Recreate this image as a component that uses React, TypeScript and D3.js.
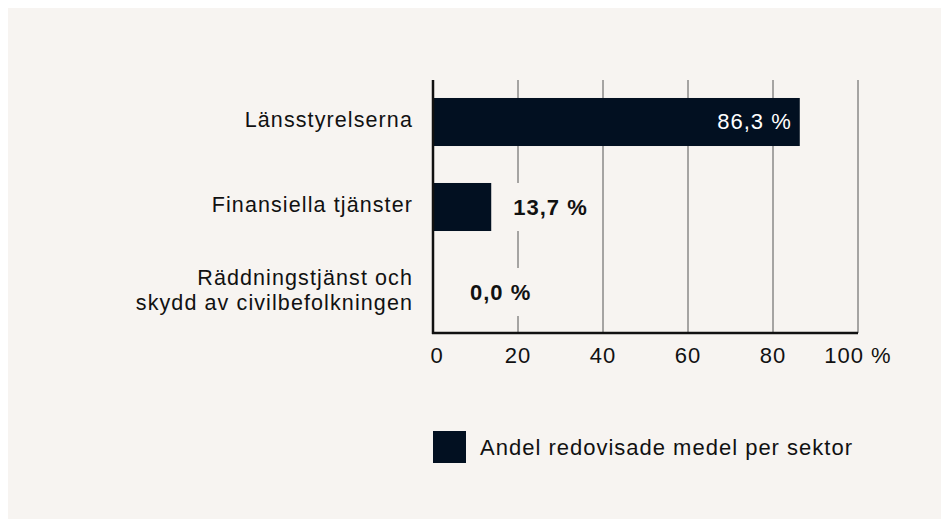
import React, { useEffect } from "react";
import * as d3 from "d3";

const categories: string[][] = [
  ["Länsstyrelserna"],
  ["Finansiella tjänster"],
  ["Räddningstjänst och", "skydd av civilbefolkningen"],
];
const values: number[] = [86.3, 13.7, 0.0];
const xTicks: number[] = [0, 20, 40, 60, 80, 100];
const legendLabel = "Andel redovisade medel per sektor";

const W = 933;
const H = 530;
const BG = "#f7f4f1";
const BAR = "#021021";
const TEXT = "#111111";
const FONT = "'Liberation Sans', Arial, Helvetica, sans-serif";

const fmt = (v: number) => v.toFixed(1).replace(".", ",") + " %";

export default function App() {
  useEffect(() => {
    document.body.style.margin = "8px 0 0 8px";
    document.documentElement.style.overflow = "hidden";
    document.body.style.overflow = "hidden";
  }, []);

  const x = d3.scaleLinear().domain([0, 100]).range([433, 858]);
  const y = d3
    .scaleBand<number>()
    .domain(categories.map((_, i) => i))
    .range([79.5, 334.5])
    .paddingInner(0.435)
    .paddingOuter(0.2175);
  const bw = y.bandwidth();
  const axisY = 333;

  return (
    <svg width={W} height={H} style={{ display: "block" }}>
      <rect x={0} y={0} width={W} height={H} fill={BG} />
      <g transform="translate(-8,-8)" fontFamily={FONT}>
        {xTicks.slice(1).map((t) => (
          <line key={"g" + t} x1={x(t)} x2={x(t)} y1={80} y2={axisY} stroke="#555" strokeWidth={1} />
        ))}
        {values.map((v, i) => (
          <rect key={"b" + i} x={x(0)} y={y(i)} width={x(v) - x(0)} height={bw} fill={BAR} />
        ))}
        {values.map((v, i) => {
          const cy = (y(i) as number) + bw / 2;
          if (v > 50) {
            return (
              <text key={"v" + i} x={x(v) - 8} y={cy + 7} textAnchor="end" fill="#ffffff" fontSize={22} letterSpacing={1}>
                {fmt(v)}
              </text>
            );
          }
          const lx = Math.max(x(v) + 22, x(0) + 37);
          const bx = Math.max(x(v), lx - 12);
          return (
            <g key={"v" + i}>
              <rect x={bx} y={y(i)} width={lx + 82 - bx} height={bw} fill={BG} />
              <text x={lx} y={cy + 8} textAnchor="start" fill={TEXT} fontSize={22} fontWeight={700} letterSpacing={1}>
                {fmt(v)}
              </text>
            </g>
          );
        })}
        <line x1={x(0)} x2={x(0)} y1={80} y2={axisY + 1} stroke="#111" strokeWidth={2.5} />
        <line x1={x(0) - 1} x2={x(100)} y1={axisY} y2={axisY} stroke="#111" strokeWidth={2.5} />
        {xTicks.map((t) => (
          <text key={"t" + t} x={x(t) + (t === 0 ? 4 : 0)} y={363} textAnchor="middle" fill={TEXT} fontSize={22} letterSpacing={1}>
            {t === 100 ? "100 %" : String(t)}
          </text>
        ))}
        {categories.map((lines, i) => {
          const cy = (y(i) as number) + bw / 2;
          const n = lines.length;
          return (
            <text key={"c" + i} textAnchor="end" fill={TEXT} fontSize={21.5} letterSpacing={1.1}>
              {lines.map((ln, j) => (
                <tspan key={j} x={413} y={cy + 5 + (j - (n - 1) / 2) * 25}>
                  {ln}
                </tspan>
              ))}
            </text>
          );
        })}
        <rect x={433} y={431} width={33} height={32} fill={BAR} />
        <text x={480} y={455} fill={TEXT} fontSize={22} letterSpacing={1}>
          {legendLabel}
        </text>
      </g>
    </svg>
  );
}
